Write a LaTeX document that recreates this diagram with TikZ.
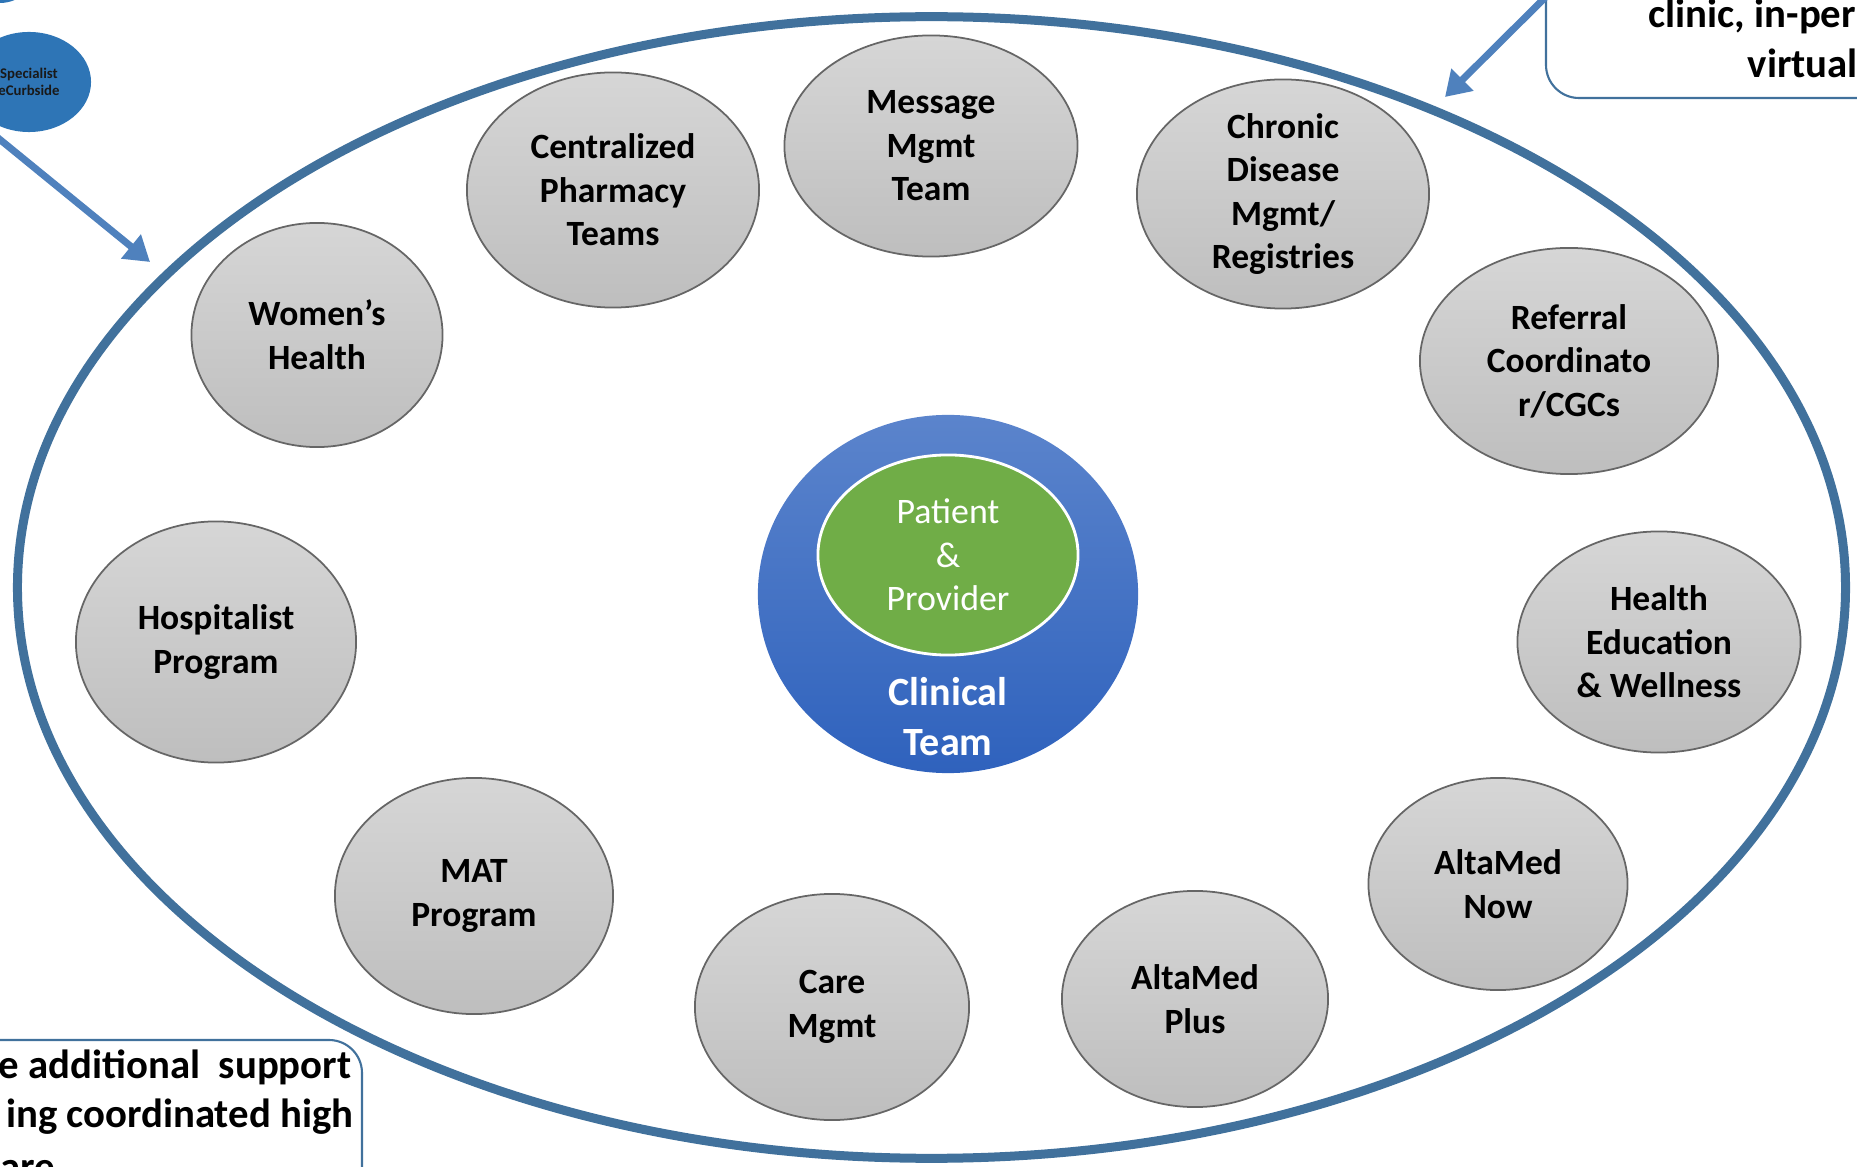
\documentclass[tikz,border=0pt]{standalone}
\usepackage{fontspec}
\setmainfont{Carlito}
\usetikzlibrary{shapes.geometric,arrows.meta}
\definecolor{ringblue}{HTML}{41719C}
\definecolor{arrowblue}{HTML}{4F81BD}
\definecolor{specblue}{HTML}{2E75B6}
\definecolor{teamtop}{HTML}{5B84CC}
\definecolor{teambot}{HTML}{2F62BD}
\definecolor{pgreen}{HTML}{70AD47}
\definecolor{bubtop}{HTML}{D6D6D6}
\definecolor{bubbot}{HTML}{BEBEBE}
\tikzset{
  bubble/.style={ellipse, draw=black!60, line width=0.5pt, top color=bubtop, bottom color=bubbot,
    inner sep=-4pt, align=center, font=\bfseries\fontsize{10.1}{12.4}\selectfont},
  callbox/.style={draw=ringblue, line width=0.6pt, rounded corners=0.33cm},
  calltext/.style={inner sep=0pt, font=\bfseries\fontsize{11.6}{13}\selectfont},
  pointer/.style={draw=arrowblue, line width=2pt, -{Triangle[length=7pt,width=8.5pt]}},
}
\begin{document}
\begin{tikzpicture}[x=0.01cm, y=-0.01cm]
        \useasboundingbox (0,0) rectangle (1857,1167);
        \clip (0,0) rectangle (1857,1167);
        % boxes cut by the page edge
        \draw[callbox] (1546,-60) rectangle (1950,98);
        \draw[callbox] (-60,1040) rectangle (362,1260);
        \node[calltext, anchor=base west] (clinic) at (1648,28) {clinic, in-per};
        \node[calltext, anchor=base west] (virtual) at (1747,78) {virtual};
        \node[calltext, anchor=base east] (addl) at (352,1078) {e additional\ \ support};
        \node[calltext, anchor=base east] (coord) at (354,1127) {ing coordinated high};
        \node[calltext, anchor=base west] (care) at (0,1180) {are};
        % specialist corner
        \fill[specblue] (0,-40) ellipse (40 and 43);
        \node[ellipse, fill=specblue, minimum width=1.24cm, minimum height=1cm, inner sep=0pt, align=center,
          text=black!90, font=\bfseries\fontsize{4.2}{4.8}\selectfont] (spec) at (29,82) {Specialist\\eCurbside};
        % outer ring
        \node[ellipse, draw=ringblue, line width=2.56pt, minimum width=18.27cm, minimum height=11.41cm,
          inner sep=0pt] (ring) at (931.5,587.5) {};
        \coordinate (specfrom) at (-40,107);
        \coordinate (spectip) at (150,262);
        \draw[pointer] (specfrom) -- (spectip);
        \coordinate (callfrom) at (1593,-50);
        \coordinate (calltip) at (1445,97);
        \draw[pointer] (callfrom) -- (calltip);
        % centre
        \node[ellipse, top color=teamtop, bottom color=teambot, minimum width=3.8cm, minimum height=3.58cm,
          inner sep=0pt] (team) at (948,594) {};
        \node[ellipse, fill=pgreen, draw=white, line width=0.8pt, minimum width=2.6cm, minimum height=2cm,
          inner sep=0pt, text=white, align=center, font=\fontsize{10.2}{12.4}\selectfont] (core) at (948,555) {Patient\\\&\\Provider};
        \node[inner sep=0pt, text=white, align=center, font=\bfseries\fontsize{11.4}{14.2}\selectfont]
          (teamname) at (948,717) {Clinical\\Team};
        % services round the ring
        \foreach \n/\x/\y/\w/\h/\t in {
        women/317/335/2.51cm/2.24cm/{Women’s\\Health},
        pharm/613/190/2.92cm/2.35cm/{Centralized\\Pharmacy\\Teams},
        msg/931/146/2.93cm/2.21cm/{Message\\Mgmt\\Team},
        chronic/1283/194/2.92cm/2.29cm/{Chronic\\Disease\\Mgmt/\\Registries},
        referral/1569/361/2.98cm/2.26cm/{Referral\\Coordinato\\r/CGCs},
        hed/1659/642/2.83cm/2.21cm/{Health\\Education\\\& Wellness},
        now/1498/884/2.59cm/2.12cm/{AltaMed\\Now},
        plus/1195/999/2.66cm/2.16cm/{AltaMed\\Plus},
        caremgmt/832/1007/2.74cm/2.26cm/{Care\\Mgmt},
        mat/474/896/2.78cm/2.36cm/{MAT\\Program},
        hosp/216/642/2.80cm/2.41cm/{Hospitalist\\Program}}{
            \node[bubble, minimum width=\w, minimum height=\h] (\n) at (\x,\y) {\t};
        }
    \end{tikzpicture}
\end{document}
